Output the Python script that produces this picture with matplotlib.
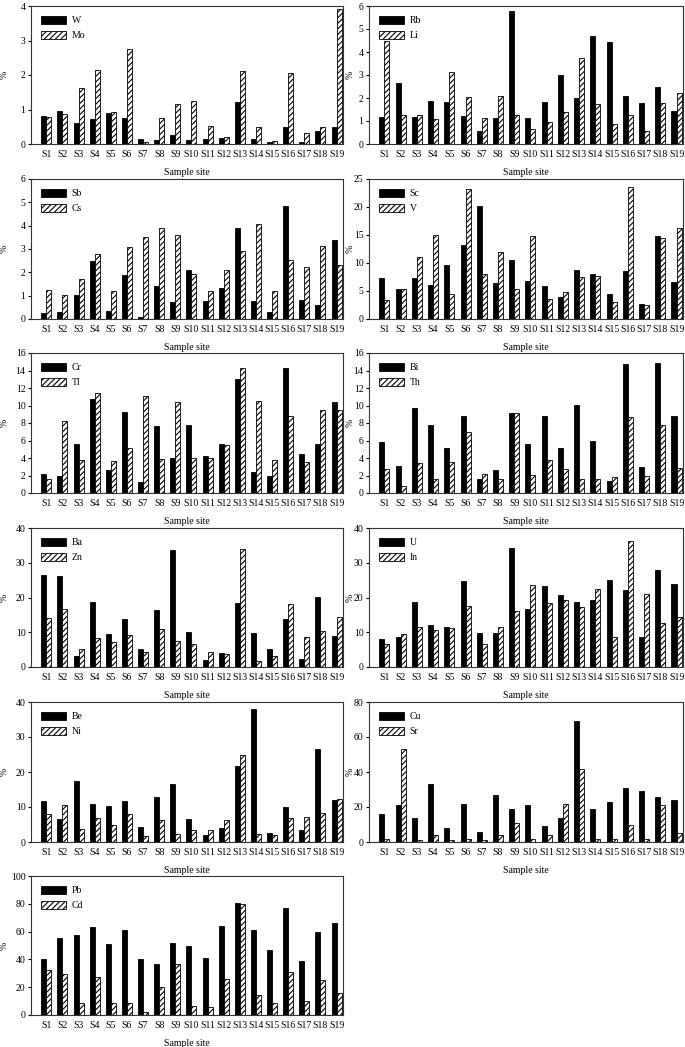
import matplotlib
matplotlib.use("Agg")
import matplotlib.pyplot as plt
import numpy as np

sites = [f"S{i}" for i in range(1, 20)]

W = [0.8, 0.97, 0.6, 0.73, 0.9, 0.75, 0.15, 0.13, 0.25, 0.13, 0.15, 0.18, 1.22, 0.15, 0.05, 0.5, 0.05, 0.38, 0.5]
Mo = [0.78, 0.87, 1.62, 2.15, 0.93, 2.75, 0.07, 0.75, 1.17, 1.25, 0.53, 0.19, 2.13, 0.5, 0.1, 2.07, 0.32, 0.5, 3.92]

Rb = [1.17, 2.65, 1.17, 1.87, 1.82, 1.2, 0.58, 1.13, 5.78, 1.15, 1.82, 3.02, 2.0, 4.68, 4.42, 2.08, 1.8, 2.5, 1.45]
Li = [4.47, 1.28, 1.25, 1.1, 3.15, 2.05, 1.13, 2.1, 1.28, 0.65, 0.97, 1.4, 3.76, 1.75, 0.88, 1.25, 0.55, 1.8, 2.2]

Sb = [0.27, 0.28, 1.02, 2.5, 0.33, 1.9, 0.08, 1.42, 0.72, 2.08, 0.78, 1.35, 3.88, 0.78, 0.32, 4.85, 0.82, 0.62, 3.38]
Cs = [1.25, 1.05, 1.72, 2.78, 1.22, 3.1, 3.5, 3.88, 3.6, 1.93, 1.18, 2.08, 2.9, 4.08, 1.2, 2.52, 2.23, 3.12, 2.3]

Sc = [7.3, 5.3, 7.4, 6.1, 9.6, 13.3, 20.2, 6.5, 10.6, 6.8, 5.9, 3.9, 8.7, 8.0, 4.5, 8.6, 2.6, 14.9, 6.6]
V = [3.4, 5.3, 11.0, 15.0, 4.5, 23.2, 8.0, 11.9, 5.4, 14.9, 3.6, 4.8, 7.5, 7.6, 3.0, 23.6, 2.5, 14.5, 16.3]

Cr = [2.2, 1.9, 5.6, 10.8, 2.6, 9.3, 1.3, 7.7, 4.0, 7.8, 4.2, 5.6, 13.0, 2.4, 1.9, 14.3, 4.5, 5.6, 10.4]
Tl = [1.6, 8.2, 3.8, 11.4, 3.7, 5.1, 11.1, 3.9, 10.4, 4.0, 4.0, 5.5, 14.3, 10.5, 3.8, 8.8, 3.5, 9.5, 9.5]

Bi = [5.8, 3.1, 9.7, 7.8, 5.2, 8.8, 1.6, 2.6, 9.1, 5.6, 8.8, 5.1, 10.1, 5.9, 1.4, 14.7, 3.0, 14.9, 8.8]
Th = [2.7, 0.8, 3.4, 1.6, 3.6, 7.0, 2.2, 1.6, 9.1, 2.1, 3.8, 2.8, 1.6, 1.6, 1.8, 8.7, 2.0, 7.8, 2.9]

Ba = [26.5, 26.2, 3.3, 18.8, 9.5, 13.7, 5.2, 16.3, 33.6, 10.1, 2.0, 4.0, 18.3, 9.9, 5.1, 13.9, 2.3, 20.2, 9.0]
Zn = [14.1, 16.6, 5.1, 8.3, 7.2, 9.3, 4.3, 10.9, 7.6, 6.7, 4.3, 3.7, 34.0, 1.8, 3.2, 18.1, 8.5, 10.3, 14.4]

U = [8.0, 8.6, 18.6, 12.2, 11.5, 24.8, 9.7, 9.9, 34.2, 16.6, 23.2, 20.8, 18.6, 19.3, 25.0, 22.3, 8.5, 27.8, 23.8]
In = [6.5, 9.4, 11.5, 10.7, 11.2, 17.6, 6.5, 11.5, 16.0, 23.6, 18.3, 19.4, 17.2, 22.5, 8.7, 36.3, 21.0, 12.8, 14.3]

Be = [11.6, 6.5, 17.3, 10.9, 10.3, 11.6, 4.4, 12.9, 16.6, 6.6, 2.0, 4.0, 21.8, 38.0, 2.6, 10.1, 3.4, 26.7, 12.0]
Ni = [7.9, 10.7, 3.6, 7.0, 4.9, 8.1, 1.7, 6.2, 2.2, 3.4, 3.4, 6.2, 24.8, 2.2, 2.0, 6.9, 7.1, 8.4, 12.3]

Cu = [16, 21, 14, 33, 8, 22, 6, 27, 19, 21, 9, 14, 69, 19, 23, 31, 29, 26, 24]
Sr = [2, 53, 1, 4, 1, 2, 1, 4, 11, 2, 4, 22, 42, 2, 2, 10, 2, 21, 5]

Pb = [40, 55.5, 57.5, 63, 51, 61, 40.5, 36.5, 52, 50, 41, 64, 80.5, 61, 47, 77, 39, 59.5, 66]
Cd = [32.5, 29.5, 8.5, 27, 8.5, 8.5, 2, 20.5, 37, 6.5, 6, 26, 79.5, 14.5, 8.5, 31, 10, 25.5, 15.5]

panels = [
    ("W", W, "Mo", Mo, 4, 1),
    ("Rb", Rb, "Li", Li, 6, 1),
    ("Sb", Sb, "Cs", Cs, 6, 1),
    ("Sc", Sc, "V", V, 25, 5),
    ("Cr", Cr, "Tl", Tl, 16, 2),
    ("Bi", Bi, "Th", Th, 16, 2),
    ("Ba", Ba, "Zn", Zn, 40, 10),
    ("U", U, "In", In, 40, 10),
    ("Be", Be, "Ni", Ni, 40, 10),
    ("Cu", Cu, "Sr", Sr, 80, 20),
    ("Pb", Pb, "Cd", Cd, 100, 20),
]

plt.rcParams['font.family'] = ['Liberation Serif', 'DejaVu Serif']
plt.rcParams['hatch.linewidth'] = 0.8
FW, FH = 685, 1047
fig = plt.figure(figsize=(FW / 100, FH / 100), dpi=100)

cols = [(31, 343), (369, 683)]
ylab_x = [9, 355]
rows = [(6, 144), (179, 319), (353, 493), (528, 667), (702, 842), (876, 1015)]

x = np.arange(1, 20)
bw = 0.31
for i, (n1, v1, n2, v2, ymax, step) in enumerate(panels):
    r, c = divmod(i, 2)
    x0, x1 = cols[c]
    y0, y1 = rows[r]
    ax = fig.add_axes([x0 / FW, 1 - y1 / FH, (x1 - x0) / FW, (y1 - y0) / FH])
    ax.bar(x - bw / 2, v1, width=bw, color='black', edgecolor='black', linewidth=0.6, label=n1)
    ax.bar(x + bw / 2, v2, width=bw, color='white', edgecolor='black', linewidth=0.6,
           hatch='//////', label=n2)
    ax.set_xlim(0.05, 19.4)
    ax.set_ylim(0, ymax)
    ax.set_yticks(np.arange(0, ymax + 0.01, step))
    ax.set_xticks(x)
    ax.set_xticklabels(sites)
    ax.tick_params(axis='x', length=0, labelsize=7, pad=4)
    ax.tick_params(axis='y', length=2, direction='out', labelsize=7, pad=2)
    for s in ax.spines.values():
        s.set_linewidth(0.8)
        s.set_color('#333333')
    ax.set_ylabel('%', fontsize=7)
    ax.yaxis.set_label_coords((ylab_x[c] - x0) / (x1 - x0), 0.5)
    ax.set_xlabel('Sample site', fontsize=7, labelpad=7)
    ax.legend(loc='upper left', frameon=False, fontsize=7, handlelength=2.6,
              handleheight=0.9, labelspacing=0.6, borderaxespad=0.6, handletextpad=0.6)

fig.savefig('out.png', dpi=100)
